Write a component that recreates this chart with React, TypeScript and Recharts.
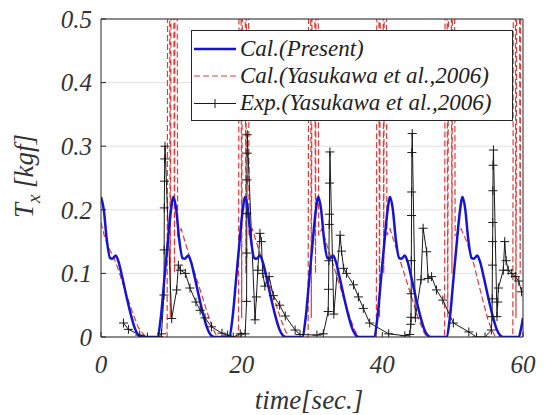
import React from 'react';
import { LineChart, Line, XAxis, YAxis, CartesianGrid, Label } from 'recharts';

const X_TICKS = [0, 20, 40, 60];
const Y_TICKS = [0, 0.1, 0.2, 0.3, 0.4, 0.5];

const SERIES_NAMES = ['Cal.(Present)', 'Cal.(Yasukawa et al.,2006)', 'Exp.(Yasukawa et al.,2006)'];

// [time, Tx]
const calPresent: [number, number][] = [
  [0, 0.22], [0.4, 0.2], [0.8, 0.155], [1.3, 0.124], [1.6, 0.123], [2.1, 0.128], [2.5, 0.118], [3.0, 0.095], [3.6, 0.065], [4.2, 0.037], [4.8, 0.014], [5.4, 0.002], [5.8, 0],
  [8.0, 0], [8.5, 0.03], [9.0, 0.09], [9.5, 0.15], [9.9, 0.195], [10.3, 0.22], [10.7, 0.2], [11.1, 0.155], [11.6, 0.124], [11.9, 0.123], [12.4, 0.128], [12.8, 0.118], [13.3, 0.095], [13.9, 0.065], [14.5, 0.037], [15.1, 0.014], [15.7, 0.002], [16.1, 0],
  [18.2, 0], [18.7, 0.03], [19.2, 0.09], [19.7, 0.15], [20.1, 0.195], [20.5, 0.22], [20.9, 0.2], [21.3, 0.155], [21.8, 0.124], [22.1, 0.123], [22.6, 0.128], [23.0, 0.118], [23.5, 0.095], [24.1, 0.065], [24.7, 0.037], [25.3, 0.014], [25.9, 0.002], [26.3, 0],
  [28.6, 0], [29.1, 0.03], [29.6, 0.09], [30.1, 0.15], [30.5, 0.195], [30.9, 0.22], [31.3, 0.2], [31.7, 0.155], [32.2, 0.124], [32.5, 0.123], [33.0, 0.128], [33.4, 0.118], [33.9, 0.095], [34.5, 0.065], [35.1, 0.037], [35.7, 0.014], [36.3, 0.002], [36.7, 0],
  [38.8, 0], [39.3, 0.03], [39.8, 0.09], [40.3, 0.15], [40.7, 0.195], [41.1, 0.22], [41.5, 0.2], [41.9, 0.155], [42.4, 0.124], [42.7, 0.123], [43.2, 0.128], [43.6, 0.118], [44.1, 0.095], [44.7, 0.065], [45.3, 0.037], [45.9, 0.014], [46.5, 0.002], [46.9, 0],
  [49.1, 0], [49.6, 0.03], [50.1, 0.09], [50.6, 0.15], [51.0, 0.195], [51.4, 0.22], [51.8, 0.2], [52.2, 0.155], [52.7, 0.124], [53.0, 0.123], [53.5, 0.128], [53.9, 0.118], [54.4, 0.095], [55.0, 0.065], [55.6, 0.037], [56.2, 0.014], [56.8, 0.002], [57.2, 0],
  [59.4, 0], [59.7, 0.012], [60, 0.03],
];

const calYasukawa: [number, number][] = [
  [0, 0.18], [0.5, 0.158], [1.1, 0.14], [1.7, 0.128], [2.5, 0.105], [3.5, 0.07], [4.5, 0.038], [5.3, 0.015], [5.9, 0.006], [6.4, 0], [9.4, 0],
  [9.6, 1.5], [9.85, 0.03], [10.15, 1.5], [10.45, 0.1], [10.65, 1.5], [10.9, 0.16], [11.4, 0.17], [12.35, 0.135], [13.35, 0.1], [14.35, 0.065], [15.35, 0.03], [16.05, 0.01], [16.55, 0], [19.55, 0],
  [19.75, 1.5], [20.0, 0.03], [20.3, 1.5], [20.6, 0.1], [20.8, 1.5], [21.05, 0.16], [21.5, 0.17], [22.5, 0.135], [23.5, 0.1], [24.5, 0.065], [25.5, 0.03], [26.2, 0.01], [26.7, 0], [29.45, 0],
  [29.65, 1.5], [29.9, 0.03], [30.2, 1.5], [30.5, 0.1], [30.7, 1.5], [30.95, 0.16], [31.4, 0.17], [32.4, 0.135], [33.4, 0.1], [34.4, 0.065], [35.4, 0.03], [36.1, 0.01], [36.6, 0], [39.15, 0],
  [39.35, 1.5], [39.6, 0.03], [39.9, 1.5], [40.2, 0.1], [40.4, 1.5], [40.65, 0.16], [41.1, 0.17], [42.1, 0.135], [43.1, 0.1], [44.1, 0.065], [45.1, 0.03], [45.8, 0.01], [46.3, 0], [48.85, 0],
  [49.05, 1.5], [49.3, 0.03], [49.6, 1.5], [49.9, 0.1], [50.1, 1.5], [50.35, 0.16], [51.2, 0.17], [52.0, 0.15], [53.0, 0.115], [54.0, 0.07], [55.0, 0.028], [55.6, 0.01], [56.1, 0], [58.55, 0],
  [58.75, 1.5], [59.0, 0.03], [59.3, 1.5], [59.6, 0.1], [59.8, 1.5], [60, 0.9],
];

const expYasukawa: [number, number][] = [
  [3.2, 0.022], [3.9, 0.012], [5.5, 0.003], [6.6, 0], [8.2, 0], [8.6, 0.005],
  [8.95, 0.066], [8.98, 0.137], [9.0, 0.203], [9.03, 0.245], [9.06, 0.28], [9.1, 0.3], [10.05, 0.029], [10.76, 0.074], [11.0, 0.113], [11.3, 0.105], [12.0, 0.1], [12.65, 0.077], [13.5, 0.055], [14.1, 0.042], [14.8, 0.03], [15.7, 0.016], [17.2, 0.006], [18.0, 0.003], [18.8, 0],
  [19.8, 0.005], [20.5, 0.005], [20.7, 0.056], [20.72, 0.132], [20.74, 0.194], [20.76, 0.247], [20.78, 0.289], [20.8, 0.318], [21.9, 0.027], [22.1, 0.063], [22.3, 0.105], [22.6, 0.163], [22.8, 0.15], [23.0, 0.1], [23.3, 0.08], [23.9, 0.095], [24.5, 0.065], [25.4, 0.05], [26.2, 0.033], [27.6, 0.011], [28.3, 0.004], [30.7, 0.003], [31.6, 0.005],
  [32.3, 0.04], [32.35, 0.075], [32.4, 0.12], [32.45, 0.177], [32.48, 0.193], [32.5, 0.242], [32.55, 0.291], [33.1, 0.036], [34.0, 0.16], [34.2, 0.135], [34.5, 0.108], [34.9, 0.1], [35.9, 0.082], [36.6, 0.063], [37.3, 0.045], [38.2, 0.022], [40.9, 0.005], [43.2, 0.002], [43.9, 0.004],
  [44.05, 0.02], [44.08, 0.031], [44.1, 0.068], [44.12, 0.12], [44.15, 0.191], [44.17, 0.228], [44.2, 0.29], [44.25, 0.32], [44.7, 0.03], [45.5, 0.09], [45.8, 0.171], [46.3, 0.134], [46.5, 0.092], [47.0, 0.095], [47.7, 0.074], [48.6, 0.058], [50.1, 0.022], [52.3, 0.008], [53.4, 0], [54.6, 0], [55.5, 0.011],
  [55.6, 0.032], [55.62, 0.06], [55.65, 0.113], [55.68, 0.15], [55.7, 0.18], [55.72, 0.23], [55.75, 0.27], [55.8, 0.294], [56.3, 0.032], [56.4, 0.055], [56.5, 0.077], [57.2, 0.105], [57.4, 0.15], [57.6, 0.12], [57.9, 0.105], [58.4, 0.1], [58.9, 0.095], [59.4, 0.088], [59.8, 0.071],
];

const toRows = (arr: [number, number][]) => arr.map(([t, v]) => ({ t, v }));

const FONT = "Liberation Serif, DejaVu Serif, Noto Serif, Tinos, FreeSerif, Times, serif";
const BLUE = '#1414d2';
const RED = '#e03a3a';
const BLACK = '#1a1a1a';
const AXIS = '#262626';

const PlusDot = (props: any) => {
  const { cx, cy, index } = props;
  if (cx == null || cy == null) return <g key={`p${index}`} />;
  return (
    <path
      key={`p${index}`}
      d={`M${cx - 4.5},${cy}H${cx + 4.5}M${cx},${cy - 4.5}V${cy + 4.5}`}
      stroke={BLACK}
      strokeWidth={1}
      fill="none"
    />
  );
};

const tickStyle = { fontFamily: FONT, fontStyle: 'italic', fontSize: 25, fill: '#333' } as any;

const LegendBox = () => (
  <div
    style={{
      position: 'absolute',
      left: 191,
      top: 30,
      width: 320,
      height: 85,
      border: `1px solid ${AXIS}`,
      background: '#fff',
      fontFamily: FONT,
      fontStyle: 'italic',
      fontSize: 23,
      color: '#222',
      paddingTop: 4,
      boxSizing: 'content-box',
    }}
  >
    {SERIES_NAMES.map((name, i) => (
      <div key={name} style={{ display: 'flex', alignItems: 'center', height: 27 }}>
        <svg width={44} height={27} style={{ marginLeft: 2, marginRight: 2, flex: 'none' }}>
          {i === 0 && <line x1={0} y1={14} x2={42} y2={14} stroke={BLUE} strokeWidth={2.5} />}
          {i === 1 && <line x1={0} y1={14} x2={42} y2={14} stroke={RED} strokeWidth={1.2} strokeDasharray="6 3" />}
          {i === 2 && (
            <g>
              <line x1={0} y1={14.5} x2={42} y2={14.5} stroke={BLACK} strokeWidth={1} />
              <path d="M16.5,14.5H25.5M21,10V19" stroke={BLACK} strokeWidth={1} />
            </g>
          )}
        </svg>
        <span style={{ lineHeight: '27px', whiteSpace: 'nowrap' }}>{name}</span>
      </div>
    ))}
  </div>
);

const YLabel = () => (
  <text
    transform="translate(33,176) rotate(-90)"
    textAnchor="middle"
    fontFamily={FONT}
    fontStyle="italic"
    fontSize={27}
    fill="#333"
  >
    <tspan>T</tspan>
    <tspan fontSize={19} dy={7}>x</tspan>
    <tspan dy={-7}>{'  [kgf]'}</tspan>
  </text>
);

const XLabel = () => (
  <text x={309} y={409} textAnchor="middle" fontFamily={FONT} fontStyle="italic" fontSize={27} fill="#333">
    time[sec.]
  </text>
);

export default function App() {
  return (
    <div style={{ position: 'absolute', left: 0, top: 0, width: 547, height: 415, background: '#fff' }}>
      <LineChart width={547} height={415} margin={{ top: 18, right: 23, left: 0, bottom: 0 }}>
        <CartesianGrid horizontal vertical={false} stroke="#e2e2e2" strokeWidth={1} />
        <XAxis
          type="number"
          dataKey="t"
          domain={[0, 60]}
          ticks={X_TICKS}
          allowDataOverflow
          height={78}
          tickSize={-5}
          tickMargin={23}
          tick={tickStyle}
          stroke={AXIS}
          axisLine={{ stroke: AXIS }}
          tickLine={{ stroke: AXIS }}
        >
          <Label content={<XLabel />} />
        </XAxis>
        <XAxis
          xAxisId="top"
          orientation="top"
          type="number"
          dataKey="t"
          domain={[0, 60]}
          ticks={X_TICKS}
          height={1}
          tickSize={-5}
          tick={false}
          axisLine={{ stroke: AXIS }}
          tickLine={{ stroke: AXIS }}
        />
        <YAxis
          type="number"
          domain={[0, 0.5]}
          ticks={Y_TICKS}
          allowDataOverflow
          width={101}
          tickSize={-5}
          tickMargin={14}
          tick={tickStyle}
          tickFormatter={(v: number) => String(v)}
          axisLine={{ stroke: AXIS }}
          tickLine={{ stroke: AXIS }}
        >
          <Label content={<YLabel />} />
        </YAxis>
        <YAxis
          yAxisId="right"
          orientation="right"
          type="number"
          domain={[0, 0.5]}
          ticks={Y_TICKS}
          width={1}
          tickSize={-5}
          tick={false}
          axisLine={{ stroke: AXIS }}
          tickLine={{ stroke: AXIS }}
        />
        <Line
          data={toRows(calYasukawa)}
          dataKey="v"
          type="linear"
          stroke={RED}
          strokeWidth={1.2}
          strokeDasharray="6 3"
          dot={false}
          isAnimationActive={false}
        />
        <Line
          data={toRows(expYasukawa)}
          dataKey="v"
          type="linear"
          stroke={BLACK}
          strokeWidth={1}
          dot={PlusDot}
          isAnimationActive={false}
        />
        <Line
          data={toRows(calPresent)}
          dataKey="v"
          type="monotone"
          stroke={BLUE}
          strokeWidth={2.5}
          dot={false}
          isAnimationActive={false}
        />
      </LineChart>
      <LegendBox />
    </div>
  );
}
